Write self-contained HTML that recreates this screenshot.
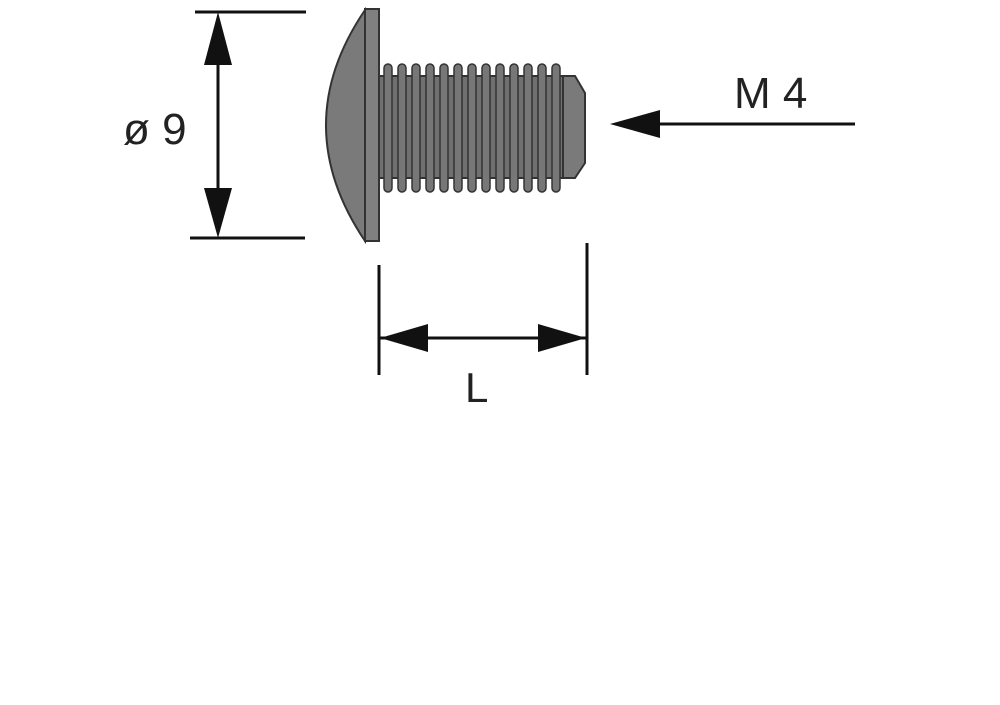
<!DOCTYPE html>
<html><head><meta charset="utf-8"><style>
html,body{margin:0;padding:0;background:#fff;}
svg{display:block;}
text{font-family:"Liberation Sans",Arial,sans-serif;fill:#222;}
</style></head><body>
<svg width="1000" height="705" viewBox="0 0 1000 705" xmlns="http://www.w3.org/2000/svg">
<rect width="1000" height="705" fill="#fff"/>
<line x1="195" y1="12" x2="306" y2="12" stroke="#111" stroke-width="3"/>
<line x1="190" y1="238" x2="305" y2="238" stroke="#111" stroke-width="3"/>
<line x1="218" y1="40" x2="218" y2="210" stroke="#111" stroke-width="3"/>
<polygon points="218,12 204,65 232,65" fill="#111"/>
<polygon points="218,238 204,188 232,188" fill="#111"/>
<text x="123" y="144" font-size="44">ø 9</text>
<path d="M365,10 Q287,125 365,241 Z" fill="#7a7a7a" stroke="#333" stroke-width="2"/>
<rect x="365" y="9" width="14" height="232" fill="#808080" stroke="#333" stroke-width="2"/>
<rect x="379" y="76" width="186" height="102" fill="#707070" stroke="#333" stroke-width="2"/>
<path d="M563,76 L575,76 L585,93 L585,163 L575,178 L563,178 Z" fill="#7a7a7a" stroke="#333" stroke-width="2"/>
<g fill="#777" stroke="#333" stroke-width="1.5">
<rect x="384" y="64" width="8" height="128" rx="4"/>
<rect x="398" y="64" width="8" height="128" rx="4"/>
<rect x="412" y="64" width="8" height="128" rx="4"/>
<rect x="426" y="64" width="8" height="128" rx="4"/>
<rect x="440" y="64" width="8" height="128" rx="4"/>
<rect x="454" y="64" width="8" height="128" rx="4"/>
<rect x="468" y="64" width="8" height="128" rx="4"/>
<rect x="482" y="64" width="8" height="128" rx="4"/>
<rect x="496" y="64" width="8" height="128" rx="4"/>
<rect x="510" y="64" width="8" height="128" rx="4"/>
<rect x="524" y="64" width="8" height="128" rx="4"/>
<rect x="538" y="64" width="8" height="128" rx="4"/>
<rect x="552" y="64" width="8" height="128" rx="4"/>
</g>
<line x1="379" y1="265" x2="379" y2="375" stroke="#111" stroke-width="3"/>
<line x1="587" y1="243" x2="587" y2="375" stroke="#111" stroke-width="3"/>
<line x1="379" y1="338" x2="587" y2="338" stroke="#111" stroke-width="3"/>
<polygon points="380,338 428,324 428,352" fill="#111"/>
<polygon points="586,338 538,324 538,352" fill="#111"/>
<text x="465" y="402" font-size="42">L</text>
<line x1="640" y1="124" x2="855" y2="124" stroke="#111" stroke-width="3"/>
<polygon points="610,124 660,110 660,138" fill="#111"/>
<text x="734" y="108" font-size="44">M 4</text>
</svg>
</body></html>
